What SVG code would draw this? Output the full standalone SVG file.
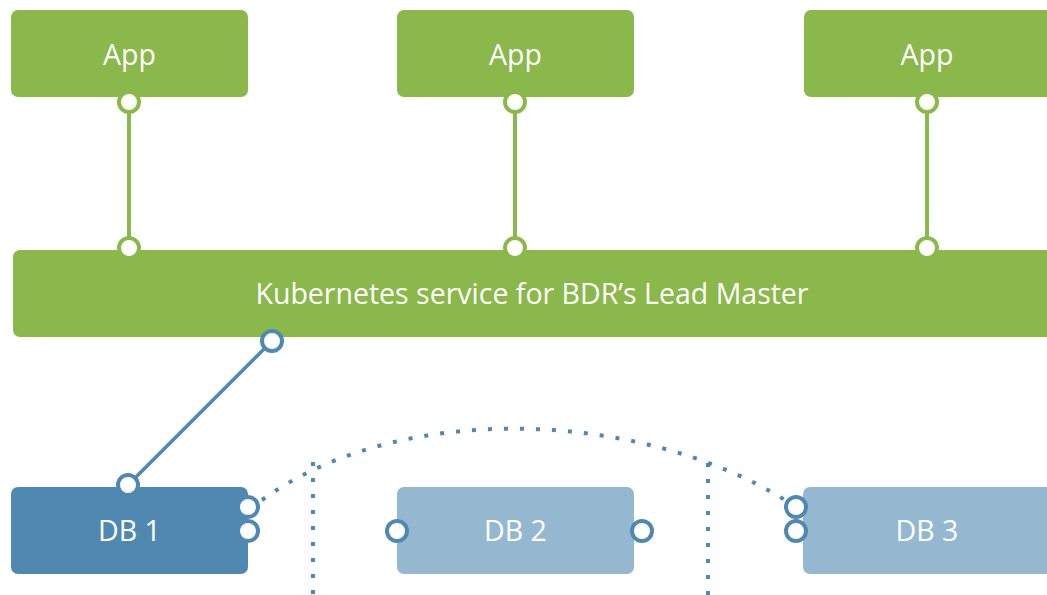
<svg xmlns="http://www.w3.org/2000/svg" width="1047" height="595" viewBox="0 0 1047 595">
<style>
.app{fill:#8AB84B}
.db1{fill:#4F89B2}
.dbl{fill:#95B8D1}
.lbl{font-family:"Open Sans","Liberation Sans",sans-serif;font-size:28.5px;fill:#fff;text-anchor:middle}
.gp{fill:#fff;stroke:#8AB84B;stroke-width:4}
.bp{fill:#fff;stroke:#4F89B2;stroke-width:4}
.gl{stroke:#8AB84B;stroke-width:4;fill:none}
.bl{stroke:#4F89B2;stroke-width:3.5;fill:none}
.dot{stroke:#4F89B2;stroke-width:4;fill:none;stroke-dasharray:4 12}
</style>
<g id="connectors">
<line class="gl" x1="129" y1="102" x2="129" y2="248"/>
<line class="gl" x1="515" y1="102" x2="515" y2="248"/>
<line class="gl" x1="927" y1="102" x2="927" y2="248"/>
<line class="bl" x1="272" y1="341" x2="128" y2="485"/>
<path class="dot" d="M262,500 C400,400 640,410 785,500"/>
<line class="dot" x1="313" y1="462" x2="313" y2="595"/>
<line class="dot" x1="708" y1="463" x2="708" y2="595"/>
</g>
<g id="app1">
<rect class="app" x="11" y="10" width="237" height="87" rx="7"/>
<text class="lbl" x="129.5" y="65">App</text>
<circle class="gp" cx="129" cy="102" r="10"/>
</g>
<g id="app2">
<rect class="app" x="397" y="10" width="237" height="87" rx="7"/>
<text class="lbl" x="515.5" y="65">App</text>
<circle class="gp" cx="515" cy="102" r="10"/>
</g>
<g id="app3">
<rect class="app" x="804" y="10" width="250" height="87" rx="7"/>
<text class="lbl" x="927" y="65">App</text>
<circle class="gp" cx="927" cy="102" r="10"/>
</g>
<g id="k8s">
<rect class="app" x="13" y="250" width="1045" height="87" rx="7"/>
<text class="lbl" x="532" y="304">Kubernetes service for BDR’s Lead Master</text>
<circle class="gp" cx="129" cy="248" r="10"/>
<circle class="gp" cx="515" cy="248" r="10"/>
<circle class="gp" cx="927" cy="248" r="10"/>
<circle class="bp" cx="272" cy="341" r="10"/>
</g>
<g id="db1">
<rect class="db1" x="11" y="487" width="237" height="87" rx="7"/>
<text class="lbl" x="129.5" y="541">DB 1</text>
<circle class="bp" cx="128" cy="485" r="10"/>
<circle class="bp" cx="248" cy="507" r="10"/>
<circle class="bp" cx="248" cy="531" r="10"/>
</g>
<g id="db2">
<rect class="dbl" x="397" y="487" width="237" height="87" rx="7"/>
<text class="lbl" x="515.5" y="541">DB 2</text>
<circle class="bp" cx="397" cy="531" r="10"/>
<circle class="bp" cx="642" cy="531" r="10"/>
</g>
<g id="db3">
<rect class="dbl" x="803" y="487" width="250" height="87" rx="7"/>
<text class="lbl" x="927" y="541">DB 3</text>
<circle class="bp" cx="796" cy="507" r="10"/>
<circle class="bp" cx="796" cy="531" r="10"/>
</g>
</svg>
